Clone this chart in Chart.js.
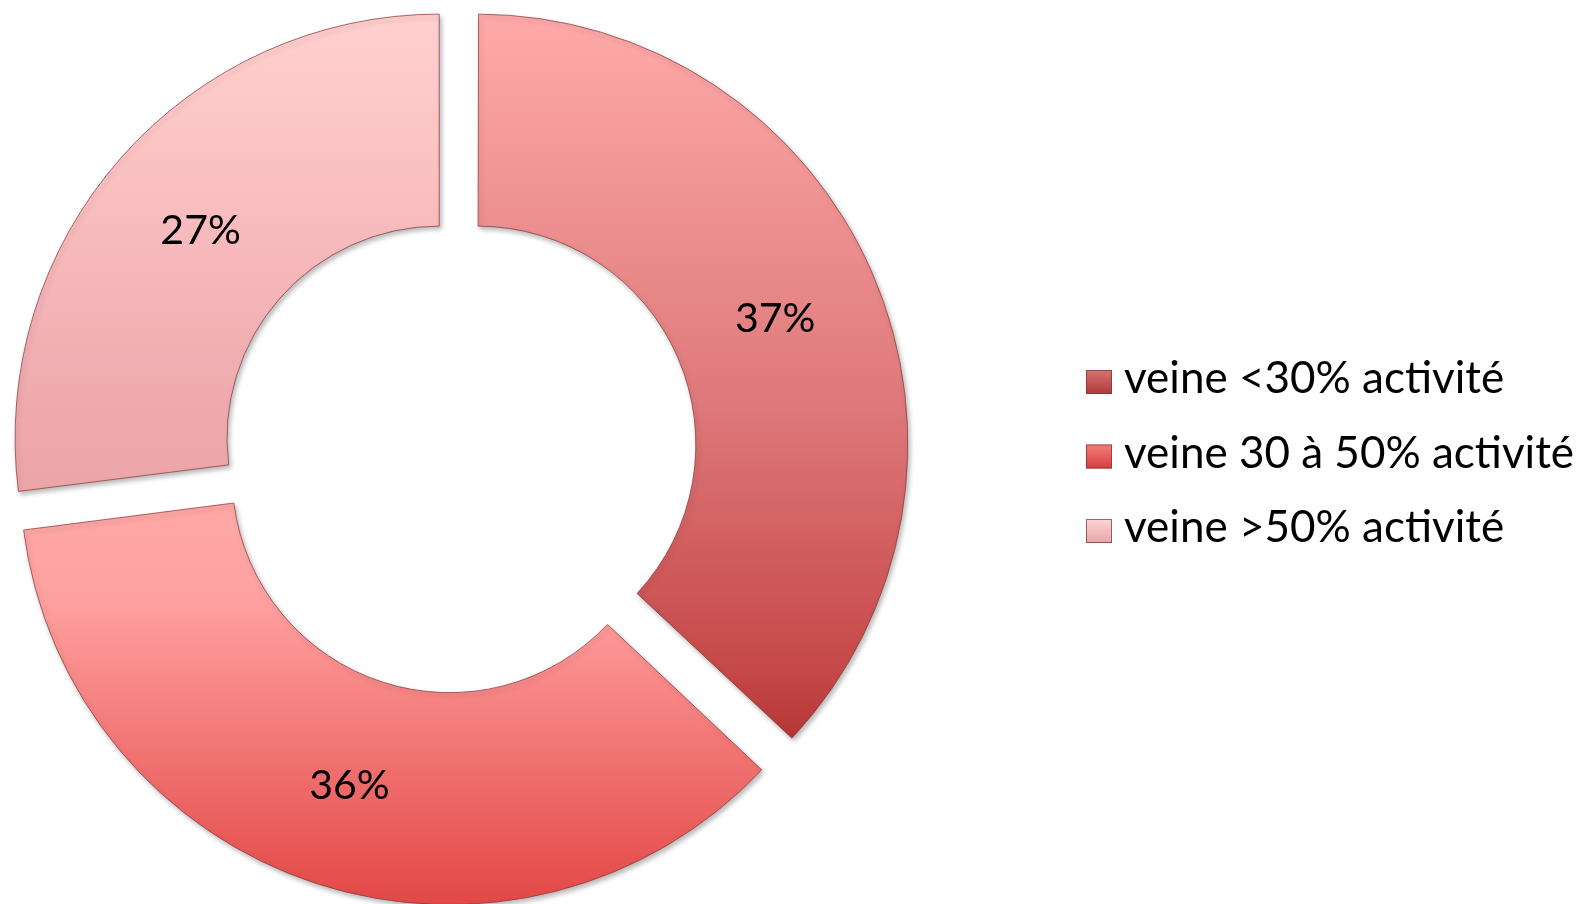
<!DOCTYPE html>
<html><head><meta charset="utf-8">
<script src="https://cdn.jsdelivr.net/npm/chart.js@4.4.1/dist/chart.umd.min.js"></script>
<style>
html,body{margin:0;padding:0;background:#fff;overflow:hidden;width:1577px;height:904px;}
#wrap{position:absolute;left:-14px;top:-17px;width:1591px;height:941px;}
</style></head><body>
<div id="wrap"><canvas id="c"></canvas></div>
<script>
// ---- data ----
const categories = ['veine <30% activité', 'veine 30 à 50% activité', 'veine >50% activité'];
const percentages = [37, 36, 27];

// ---- style ----
const WRAP_LEFT = -14, WRAP_TOP = -17;
const FONT = 'Lato';
const LABEL_FONT_SIZE = 41;
const LEGEND_FONT_SIZE = 44;
const LABEL_DY = 3;
const sliceStops = [
  [[0.02,'#FFAAAA'],[0.46,'#DE787A'],[0.75,'#C64848'],[0.83,'#B63636']],
  [[0.56,'#FFA6A6'],[0.64,'#FFA0A0'],[0.96,'#E44C4A'],[1.0,'#DC4240']],
  [[0.01,'#FFD0D0'],[0.08,'#FFCCCC'],[0.46,'#F0AAAE'],[0.55,'#ECA6AA']]
];
const legendStops = [
  ['#D87272','#B03A3A'],
  ['#F67C7C','#D43E3E'],
  ['#FDD4D4','#E8A6A8']
];
const LEGEND_BOX_X = 1086, LEGEND_TEXT_X = 1124, LEGEND_BASE0 = 393, LEGEND_STEP = 74.5;
const BOX_W = 26, BOX_H = 24;

function vGrad(c, stops, y0, y1) {
  const g = c.createLinearGradient(0, y0, 0, y1);
  stops.forEach(s => g.addColorStop(s[0], s[1]));
  return g;
}
function sliceColor(ctx) {
  const c = ctx.chart.ctx;
  return vGrad(c, sliceStops[ctx.dataIndex], -WRAP_TOP, 904 - WRAP_TOP);
}

const deco = {
  id: 'deco',
  beforeDatasetsDraw(chart) {
    const c = chart.ctx;
    c.save();
    c.shadowColor = 'rgba(0,0,0,0.28)';
    c.shadowBlur = 5; c.shadowOffsetX = 2; c.shadowOffsetY = 3;
  },
  afterDatasetsDraw(chart) {
    const c = chart.ctx;
    c.restore();
    const meta = chart.getDatasetMeta(0);
    c.save();
    c.font = LABEL_FONT_SIZE + 'px ' + FONT;
    c.fillStyle = '#000';
    c.textAlign = 'center';
    c.textBaseline = 'middle';
    meta.data.forEach((arc, i) => {
      const p = arc.getProps(['x','y','startAngle','endAngle','innerRadius','outerRadius','circumference']);
      const t = (arc.options.offset || 0) / 4;
      const fix = 1 - Math.sin(Math.min(Math.PI, p.circumference));
      const mid = (p.startAngle + p.endAngle) / 2;
      const r = t + t * fix + (p.innerRadius + p.outerRadius) / 2;
      c.fillText(chart.data.datasets[0].data[i] + '%', p.x + Math.cos(mid) * r, p.y + Math.sin(mid) * r + LABEL_DY);
    });
    c.restore();
  },
  afterDraw(chart) {
    const c = chart.ctx;
    c.save();
    c.font = LEGEND_FONT_SIZE + 'px ' + FONT;
    c.textBaseline = 'alphabetic';
    c.textAlign = 'left';
    chart.data.labels.forEach((lab, i) => {
      const base = LEGEND_BASE0 + i * LEGEND_STEP - WRAP_TOP;
      const bx = LEGEND_BOX_X - WRAP_LEFT, by = base - BOX_H + 1;
      c.fillStyle = vGrad(c, [[0, legendStops[i][0]], [1, legendStops[i][1]]], by, by + BOX_H);
      c.fillRect(bx, by, BOX_W, BOX_H);
      c.strokeStyle = 'rgba(120,50,50,0.7)';
      c.lineWidth = 1;
      c.strokeRect(bx + 0.5, by + 0.5, BOX_W - 1, BOX_H - 1);
      c.fillStyle = '#000';
      c.fillText(lab, LEGEND_TEXT_X - WRAP_LEFT, base);
    });
    c.restore();
  }
};

new Chart(document.getElementById('c'), {
  type: 'doughnut',
  data: {
    labels: categories,
    datasets: [{
      data: percentages,
      backgroundColor: sliceColor,
      hoverBackgroundColor: sliceColor,
      borderColor: 'rgba(140,60,60,0.75)',
      hoverBorderColor: 'rgba(140,60,60,0.75)',
      borderWidth: 1,
      hoverBorderWidth: 1,
      borderJoinStyle: 'miter',
      offset: 92,
      hoverOffset: 92
    }]
  },
  options: {
    responsive: true,
    maintainAspectRatio: false,
    animation: false,
    events: [],
    rotation: 0,
    cutout: '50%',
    layout: { padding: { left: 0, top: 0, bottom: 0, right: 650 } },
    plugins: { legend: { display: false }, tooltip: { enabled: false } }
  },
  plugins: [deco]
});
</script>
</body></html>
